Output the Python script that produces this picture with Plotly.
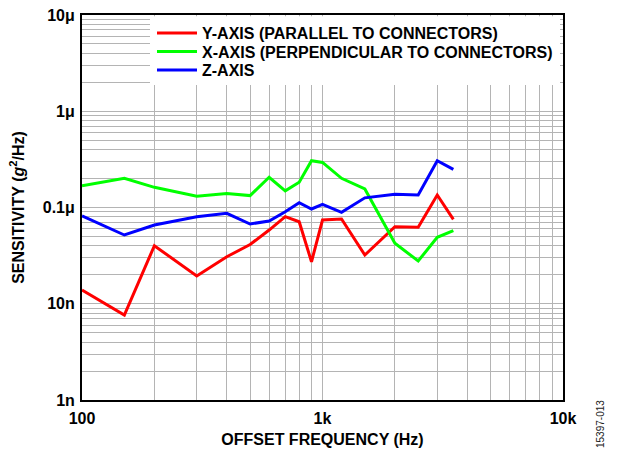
import plotly.graph_objects as go

freq = [100, 150, 200, 300, 400, 500, 600, 700, 800, 900, 1000, 1200, 1500, 2000, 2500, 3000, 3500]

y_axis = [1.39e-8, 7.64e-9, 4.01e-8, 1.94e-8, 3.08e-8, 4.13e-8, 5.83e-8, 8.03e-8, 7.11e-8, 2.73e-8,
          7.41e-8, 7.60e-8, 3.21e-8, 6.32e-8, 6.23e-8, 1.35e-7, 7.54e-8]
x_axis = [1.68e-7, 2.01e-7, 1.62e-7, 1.31e-7, 1.40e-7, 1.33e-7, 2.06e-7, 1.49e-7, 1.83e-7, 3.06e-7,
          2.94e-7, 2.01e-7, 1.56e-7, 4.25e-8, 2.78e-8, 4.90e-8, 5.74e-8]
z_axis = [8.17e-8, 5.18e-8, 6.58e-8, 8.03e-8, 8.71e-8, 6.74e-8, 7.24e-8, 9.04e-8, 1.12e-7, 9.65e-8,
          1.08e-7, 8.91e-8, 1.26e-7, 1.37e-7, 1.35e-7, 3.06e-7, 2.49e-7]

series_names = ["Y-AXIS (PARALLEL TO CONNECTORS)", "X-AXIS (PERPENDICULAR TO CONNECTORS)", "Z-AXIS"]
series_colors = ["#ff0000", "#00ff00", "#0000ff"]

x_decades = [100, 1000, 10000]
x_decade_labels = ["100", "1k", "10k"]
y_decades = [1e-9, 1e-8, 1e-7, 1e-6, 1e-5]
y_decade_labels = ["1n", "10n", "0.1μ", "1μ", "10μ"]


def log_grid(decades, labels):
    vals, texts = [], []
    for i, d in enumerate(decades):
        vals.append(d)
        texts.append("<b>%s</b>" % labels[i])
        if i < len(decades) - 1:
            for m in range(2, 10):
                vals.append(d * m)
                texts.append(" ")
    return vals, texts


xv, xt = log_grid(x_decades, x_decade_labels)
yv, yt = log_grid(y_decades, y_decade_labels)

FONT = "Arial, Liberation Sans, sans-serif"
W, H = 621, 452
ML, MR, MT, MB = 82, 58, 15, 52
PW, PH = W - ML - MR, H - MT - MB


def px_x(px):
    return (px - ML) / PW


def px_y(py):
    return (H - MB - py) / PH


fig = go.Figure()
legend_ids = ["legend", "legend2", "legend3"]
for name, data, col, lg in zip(series_names, [y_axis, x_axis, z_axis], series_colors, legend_ids):
    fig.add_trace(go.Scatter(x=freq, y=data, mode="lines", name="<b>%s</b>" % name,
                             line=dict(color=col, width=3), legend=lg))

row_y = [33, 51.5, 70]
legend_common = dict(xanchor="left", yanchor="middle", bgcolor="rgba(0,0,0,0)",
                     font=dict(size=16, family=FONT), itemwidth=40, borderwidth=0)

fig.update_layout(
    width=W, height=H,
    margin=dict(l=ML, r=MR, t=MT, b=MB),
    paper_bgcolor="white", plot_bgcolor="white",
    font=dict(family=FONT, size=16, color="black"),
    legend=dict(x=px_x(152), y=px_y(row_y[0]), **legend_common),
    legend2=dict(x=px_x(152), y=px_y(row_y[1]), **legend_common),
    legend3=dict(x=px_x(152), y=px_y(row_y[2]), **legend_common),
    xaxis=dict(type="log", range=[2, 4], tickvals=xv, ticktext=xt, showgrid=True, tickangle=0,
               gridcolor="#b4b4b4", gridwidth=1, showline=True, mirror=True, linecolor="black",
               linewidth=2, ticks="outside", ticklen=3, tickcolor="rgba(0,0,0,0)",
               tickfont=dict(size=16), zeroline=False, automargin=False,
               title=dict(text="<b>OFFSET FREQUENCY (Hz)</b>", font=dict(size=16), standoff=8)),
    yaxis=dict(type="log", range=[-9, -5], tickvals=yv, ticktext=yt, showgrid=True,
               gridcolor="#b4b4b4", gridwidth=1, showline=True, mirror=True, linecolor="black",
               linewidth=2, ticks="outside", ticklen=2, tickcolor="rgba(0,0,0,0)",
               tickfont=dict(size=16), zeroline=False, automargin=False,
               title=dict(text="<b>SENSITIVITY (<i>g</i><sup>2</sup>/Hz)</b>", font=dict(size=16), standoff=14)),
    showlegend=True,
)

# white panel behind the legend entries (hides the grid there)
fig.add_shape(type="rect", xref="paper", yref="paper",
              x0=px_x(150), x1=px_x(560), y0=px_y(85), y1=px_y(16.2),
              fillcolor="white", line=dict(width=0), layer="above")

fig.add_annotation(text="15397-013", xref="paper", yref="paper", x=px_x(600), y=px_y(424),
                   xanchor="center", yanchor="middle", textangle=-90, showarrow=False,
                   font=dict(size=10, color="#222222", family=FONT))

fig.write_html("out.html", config={"displayModeBar": False},
               post_script="document.body.style.margin='0';")
